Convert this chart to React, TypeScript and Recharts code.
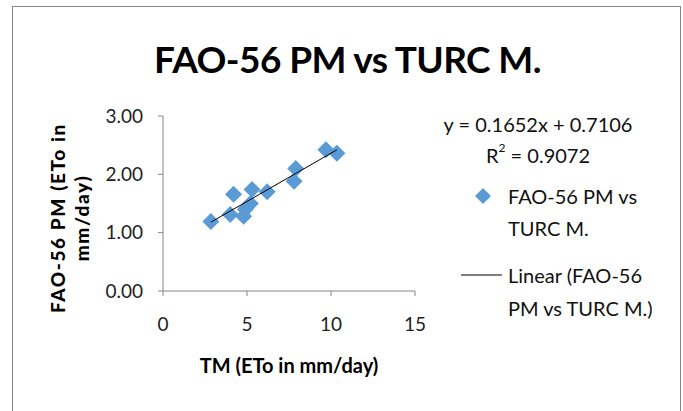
import { ScatterChart, Scatter, XAxis, YAxis } from 'recharts';

const tmValues = [2.85, 4.0, 4.2, 4.8, 4.9, 5.2, 5.3, 6.2, 7.8, 7.9, 9.7, 10.35];
const pmValues = [1.19, 1.31, 1.66, 1.28, 1.4, 1.5, 1.74, 1.7, 1.88, 2.1, 2.42, 2.36];
const trendX = [2.85, 10.35];
const trendY = [1.18, 2.42];
const xTicks = [0, 5, 10, 15];
const yTicks = [0, 1, 2, 3];

const points = tmValues.map((x, i) => ({ x, y: pmValues[i] }));
const trend = trendX.map((x, i) => ({ x, y: trendY[i] }));

const BLUE = '#5B9BD5';
const AXIS = '#868686';
const FONT = 'Lato, sans-serif';

const Diamond = ({ cx, cy }: any) => {
  const r = 8.5;
  return <polygon points={`${cx},${cy - r} ${cx + r},${cy} ${cx},${cy + r} ${cx - r},${cy}`} fill={BLUE} />;
};

// legend + trendline label, placed like the Excel original
const LegendBox = () => (
  <div style={{ position: 'absolute', left: 440, top: 100, width: 240, height: 230, fontFamily: FONT, fontSize: 20, color: '#111' }}>
    <div style={{ position: 'absolute', left: 0, top: 11, width: 196, textAlign: 'center', lineHeight: '26px' }}>
      y = 0.1652x + 0.7106
    </div>
    <div style={{ position: 'absolute', left: 0, top: 42, width: 196, textAlign: 'center', lineHeight: '26px' }}>
      R<sup style={{ fontSize: 12, verticalAlign: 'top', lineHeight: '12px' }}>2</sup> = 0.9072
    </div>
    <svg style={{ position: 'absolute', left: 32, top: 85 }} width={22} height={22}>
      <polygon points='11,3 19,11 11,19 3,11' fill={BLUE} />
    </svg>
    <div style={{ position: 'absolute', left: 68, top: 80, lineHeight: '32px' }}>
      FAO-56 PM vs<br />TURC M.
    </div>
    <svg style={{ position: 'absolute', left: 20, top: 170 }} width={44} height={10}>
      <line x1={1} y1={5} x2={42} y2={5} stroke='#000' strokeWidth={1.2} />
    </svg>
    <div style={{ position: 'absolute', left: 68, top: 159, lineHeight: '33px' }}>
      Linear (FAO-56<br />PM vs TURC M.)
    </div>
  </div>
);

export default function App() {
  return (
    <div style={{ position: 'absolute', left: 0, top: 0, width: 683, height: 411, background: '#fff', overflow: 'hidden' }}>
      <div style={{ position: 'absolute', left: 12, top: 6, width: 667, height: 420, border: `1px solid ${AXIS}` }} />
      <div
        style={{
          position: 'absolute',
          left: 0,
          top: 36,
          width: 695,
          textAlign: 'center',
          fontFamily: FONT,
          fontWeight: 700,
          fontSize: 37,
          letterSpacing: -0.6,
          color: '#000',
        }}
      >
        FAO-56 PM vs TURC M.
      </div>
      <div style={{ position: 'absolute', left: 70, top: 218, width: 0, height: 0 }}>
        <div
          style={{
            position: 'absolute',
            transform: 'translate(-50%, -50%) rotate(-90deg)',
            width: 220,
            textAlign: 'center',
            fontFamily: FONT,
            fontWeight: 900,
            fontSize: 19,
            letterSpacing: 1.6,
            lineHeight: '24px',
            color: '#000',
          }}
        >
          FAO-56 PM (ETo in<br />mm/day)
        </div>
      </div>
      <div
        style={{
          position: 'absolute',
          left: 189,
          top: 353,
          width: 200,
          textAlign: 'center',
          fontFamily: FONT,
          fontWeight: 700,
          fontSize: 20,
          color: '#000',
        }}
      >
        TM (ETo in mm/day)
      </div>
      <LegendBox />
      <div style={{ position: 'absolute', left: 0, top: 0 }}>
        <ScatterChart width={683} height={411} margin={{ top: 116, right: 268, bottom: 80, left: 103 }}>
          <XAxis
            type='number'
            dataKey='x'
            domain={[0, 15]}
            ticks={xTicks}
            height={40}
            stroke={AXIS}
            tickSize={5}
            tickMargin={22}
            tick={{ fill: '#222', fontSize: 19, fontFamily: FONT }}
          />
          <YAxis
            type='number'
            dataKey='y'
            domain={[0, 3]}
            ticks={yTicks}
            width={60}
            stroke={AXIS}
            tickSize={5}
            tickMargin={15}
            tickFormatter={(v: number) => v.toFixed(2)}
            tick={{ fill: '#222', fontSize: 19, fontFamily: FONT }}
          />
          <Scatter data={points} shape={Diamond} isAnimationActive={false} />
          <Scatter data={trend} line={{ stroke: '#000', strokeWidth: 1 }} shape={() => <g />} isAnimationActive={false} />
        </ScatterChart>
      </div>
    </div>
  );
}
